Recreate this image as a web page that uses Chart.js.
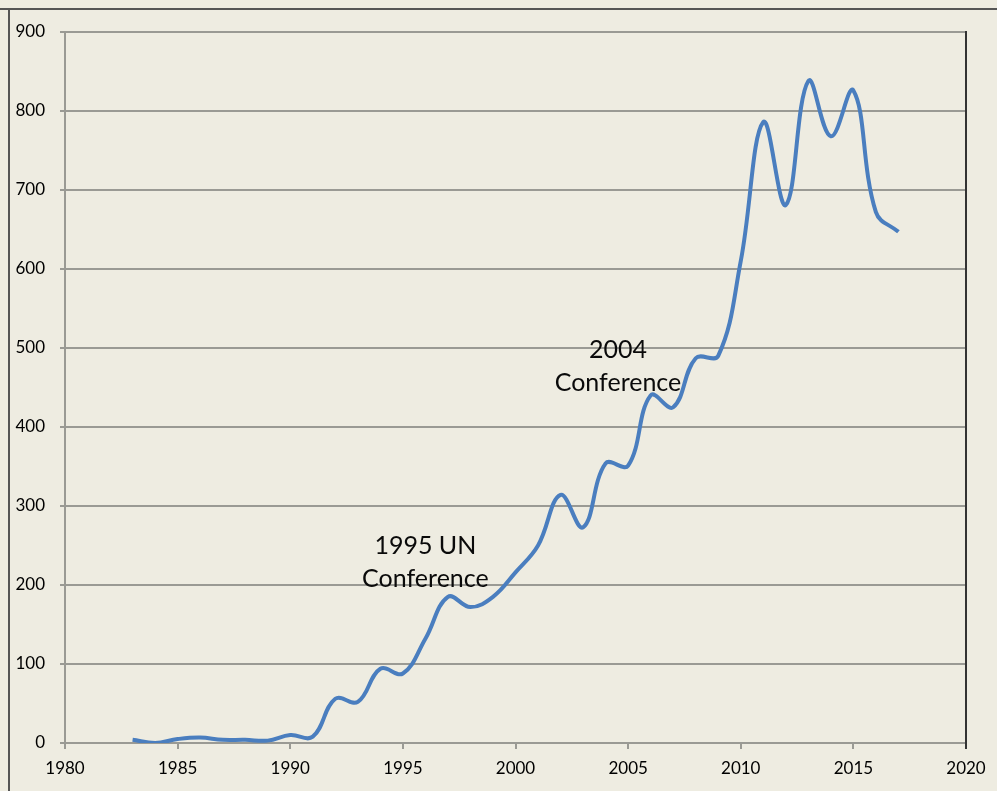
<!DOCTYPE html>
<html>
<head>
<meta charset="utf-8">
<script src="https://cdn.jsdelivr.net/npm/chart.js@4.4.1/dist/chart.umd.min.js"></script>
<style>
  html, body { margin: 0; padding: 0; background: #EEECE1; }
  #wrap { width: 997px; height: 791px; }
</style>
</head>
<body>
<div id="wrap"><canvas id="c" width="997" height="791"></canvas></div>
<script>
// ---- data ----
const years = [1983,1984,1985,1986,1987,1988,1989,1990,1991,1992,1993,1994,1995,1996,1997,1998,1999,2000,2001,2002,2003,2004,2005,2006,2007,2008,2009,2010,2011,2012,2013,2014,2015,2016,2017];
const counts = [4,0,5,7,4,4,3,10,8,56,52,94,88,132,185,172,185,216,250,314,273,354,351,440,425,487,490,610,786,681,838,768,826,672,647];
const xTicks = [1980,1985,1990,1995,2000,2005,2010,2015,2020];
const yTicks = [0,100,200,300,400,500,600,700,800,900];
const annoText = [["1995 UN","Conference"],["2004","Conference"]];
const annoYear = [1996.0, 2004.55];
const annoValue = [250, 497];

const points = years.map((y, i) => ({x: y, y: counts[i]}));

const framePlugin = {
  id: 'frame',
  beforeDraw(chart) {
    const ctx = chart.ctx;
    ctx.save();
    ctx.fillStyle = '#EEECE1';
    ctx.fillRect(0, 0, chart.width, chart.height);
    ctx.strokeStyle = '#555555';
    ctx.lineWidth = 2;
    ctx.beginPath();
    ctx.moveTo(0, 9); ctx.lineTo(chart.width, 9);
    ctx.moveTo(9, 9); ctx.lineTo(9, chart.height);
    ctx.stroke();
    ctx.restore();
  },
  afterDraw(chart) {
    const ctx = chart.ctx;
    const a = chart.chartArea;
    ctx.save();
    ctx.strokeStyle = '#333333';
    ctx.lineWidth = 2;
    ctx.beginPath();
    ctx.moveTo(a.right, a.top - 1);
    ctx.lineTo(a.right, a.bottom + 6);
    ctx.stroke();
    // annotations
    const xs = chart.scales.x, ys = chart.scales.y;
    ctx.fillStyle = '#0a0a0a';
    ctx.font = '25px Lato';
    ctx.textAlign = 'center';
    ctx.textBaseline = 'middle';
    annoText.forEach((lines, i) => {
      const px = xs.getPixelForValue(annoYear[i]);
      const py = ys.getPixelForValue(annoValue[i]);
      lines.forEach((t, j) => ctx.fillText(t, px, py + j * 33));
    });
    ctx.restore();
  }
};

new Chart(document.getElementById('c'), {
  type: 'line',
  data: {
    datasets: [{
      data: points,
      borderColor: '#4A7EBF',
      borderWidth: 4,
      pointRadius: 0,
      tension: 0.4,
      fill: false
    }]
  },
  options: {
    responsive: false,
    animation: false,
    devicePixelRatio: 1,
    layout: { padding: { left: 0, top: 32, right: 31, bottom: 0 } },
    plugins: { legend: { display: false }, tooltip: { enabled: false } },
    scales: {
      x: {
        type: 'linear',
        min: 1980, max: 2020,
        afterBuildTicks: s => { s.ticks = xTicks.map(v => ({value: v})); },
        afterFit: s => { s.height = 48; },
        ticks: { color: '#000', font: { family: 'Lato', size: 17 }, padding: 9, callback: v => String(v), maxRotation: 0 },
        grid: { drawOnChartArea: false, drawTicks: true, tickLength: 6, color: '#9a9a94', lineWidth: 2 },
        border: { color: '#9a9a94', width: 2 }
      },
      y: {
        min: 0, max: 900,
        afterBuildTicks: s => { s.ticks = yTicks.map(v => ({value: v})); },
        afterFit: s => { s.width = 65; },
        ticks: { color: '#000', font: { family: 'Lato', size: 17 }, padding: 15, callback: v => String(v) },
        grid: { color: '#9a9a94', lineWidth: 2, tickLength: 5 },
        border: { color: '#9a9a94', width: 2 }
      }
    }
  },
  plugins: [framePlugin]
});
</script>
</body>
</html>
